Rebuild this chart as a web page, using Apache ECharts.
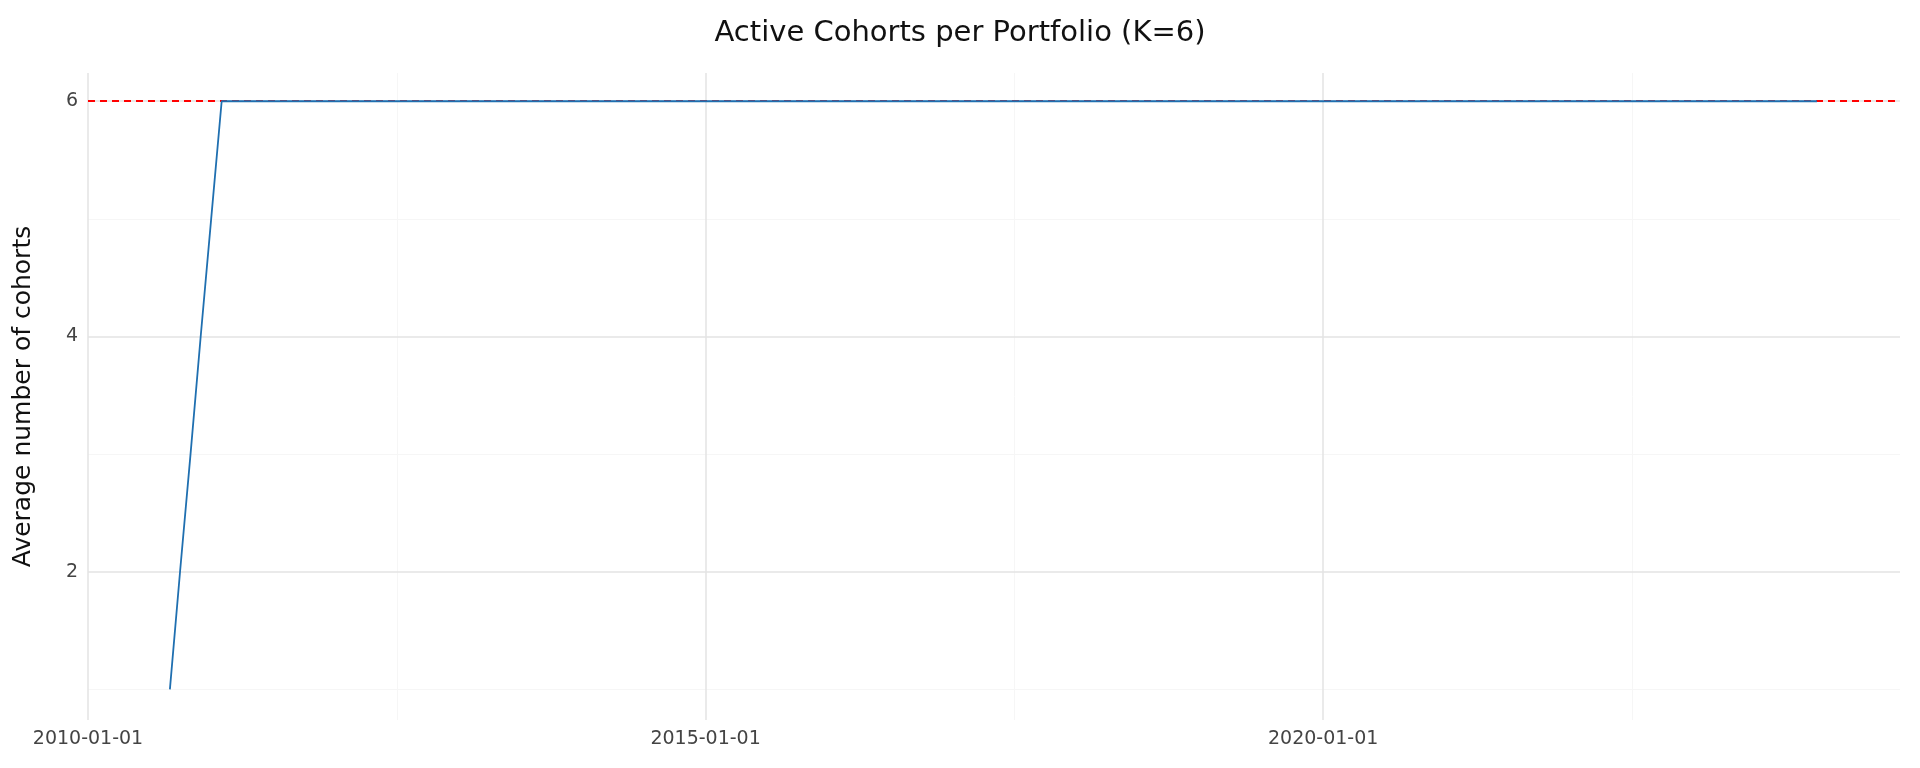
<!DOCTYPE html>
<html><head><meta charset="utf-8">
<script src="https://cdn.jsdelivr.net/npm/echarts@6/dist/echarts.min.js"></script>
<style>html,body{margin:0;background:#fff}#c{width:1920px;height:768px}</style>
</head><body><div id="c"></div>
<script>
const dates = ['2010-08-31','2010-09-30','2010-10-31','2010-11-30','2010-12-31','2011-01-31','2012-12-31','2014-12-31','2016-12-31','2018-12-31','2020-12-31','2022-12-31','2023-12-31'];
const values = [1,2,3,4,5,6,6,6,6,6,6,6,6];
const xTicks = [2010,2015,2020];
const xMinor = [2012.5,2017.5,2022.5];
const yTicks = [2,4,6];
const yMinor = [1,3,5];
const targetK = 6;

function toYear(s){const d=new Date(s+'T00:00:00Z');const y=d.getUTCFullYear();
  const a=Date.UTC(y,0,1),b=Date.UTC(y+1,0,1);return y+(d-a)/(b-a);}
const data = dates.map((d,i)=>[toYear(d),values[i]]);
const major={color:'#e3e3e3',width:1.5,type:'solid'}, minor={color:'#f6f6f6',width:1,type:'solid'};
const ml=(arr,key,st)=>arr.map(v=>({[key]:v,lineStyle:st}));
const chart=echarts.init(document.getElementById('c'));
chart.setOption({
  animation:false,
  title:{text:'Active Cohorts per Portfolio (K=6)',left:'center',top:14,textStyle:{fontFamily:'DejaVu Sans',fontSize:29,fontWeight:'normal',color:'#111'}},
  grid:{left:88,right:20,top:73,bottom:48},
  xAxis:{type:'value',min:2010,max:2024.67,axisLine:{show:false},axisTick:{show:false},splitLine:{show:false},
    axisLabel:{customValues:xTicks,formatter:v=>Math.round(v)+'-01-01',fontFamily:'DejaVu Sans',fontSize:19,color:'#444',margin:10}},
  yAxis:{type:'value',min:0.74,max:6.24,name:'Average number of cohorts',nameLocation:'middle',nameGap:52,
    nameTextStyle:{fontFamily:'DejaVu Sans',fontSize:25,color:'#111'},
    axisLine:{show:false},axisTick:{show:false},splitLine:{show:false},
    axisLabel:{customValues:yTicks,fontFamily:'DejaVu Sans',fontSize:19,color:'#444',margin:10}},
  series:[
    {type:'line',data:[],silent:true,z:1,markLine:{silent:true,symbol:'none',label:{show:false},
      data:[...ml(yMinor,'yAxis',minor),...ml(xMinor,'xAxis',minor),...ml(yTicks,'yAxis',major),...ml(xTicks,'xAxis',major)]}},
    {type:'line',data:data,showSymbol:false,zlevel:1,z:3,lineStyle:{color:'#1f6fb0',width:1.8}},
    {type:'line',data:[],zlevel:2,z:5,markLine:{silent:true,symbol:'none',label:{show:false},
      data:[{yAxis:targetK,lineStyle:{color:'#ff0000',width:1.8,type:[7,5]}}]}}
  ]
});
</script></body></html>
